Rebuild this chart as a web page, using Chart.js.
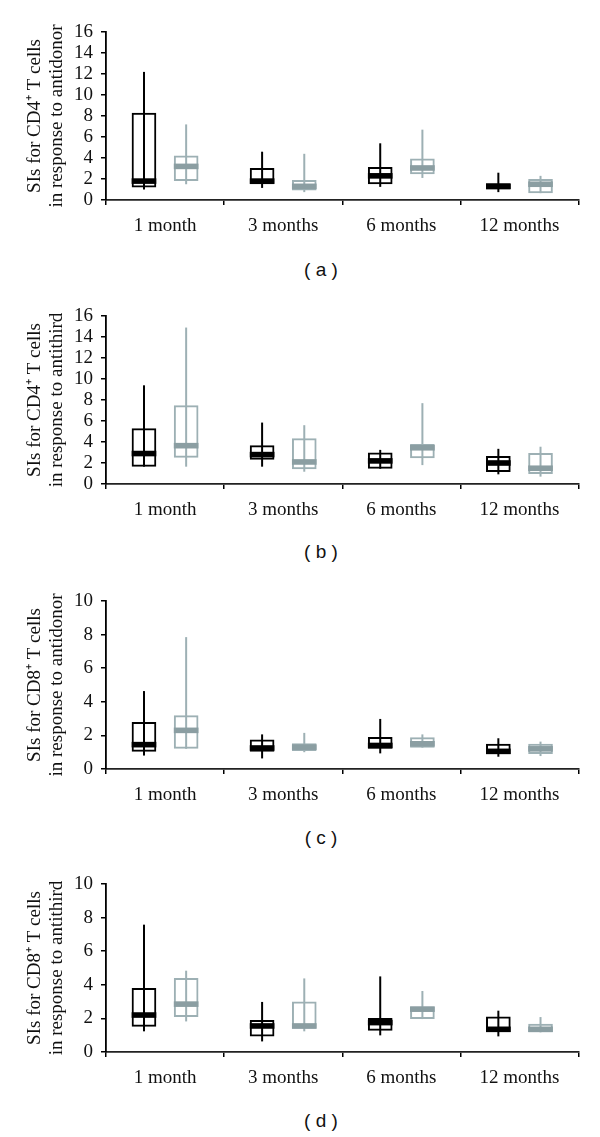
<!DOCTYPE html>
<html>
<head>
<meta charset="utf-8">
<script src="https://cdn.jsdelivr.net/npm/chart.js@4.4.1/dist/chart.umd.min.js"></script>
<style>
  html, body { margin:0; padding:0; background:#fff; }
  body { width:600px; height:1137px; position:relative; overflow:hidden; }
  canvas { position:absolute; left:0; }
  .cap { position:absolute; width:80px; text-align:center; font-family:"Liberation Sans", Arial, sans-serif; font-size:19px; color:#111; line-height:20px; }
</style>
</head>
<body>
<canvas id="ca" width="600" height="248" style="top:2px"></canvas>
<canvas id="cb" width="600" height="248" style="top:286px"></canvas>
<canvas id="cc" width="600" height="248" style="top:571px"></canvas>
<canvas id="cd" width="600" height="248" style="top:854px"></canvas>
<div class="cap" style="left:281px; top:260px">( a )</div>
<div class="cap" style="left:281px; top:542px">( b )</div>
<div class="cap" style="left:281px; top:828px">( c )</div>
<div class="cap" style="left:281px; top:1111px">( d )</div>
<script>
// Categories
const months = ['1 month', '3 months', '6 months', '12 months'];

// Each entry: [min, Q1, median, Q3, max]
// (a) CD4+ T cells, antidonor
const cd4DonorBlack = [[1.0, 1.2, 1.8, 8.3, 12.2], [1.15, 1.5, 1.8, 3.05, 4.6], [1.25, 1.5, 2.3, 3.15, 5.4], [0.75, 1.0, 1.3, 1.6, 2.6]];
const cd4DonorGrey  = [[1.5, 1.8, 3.2, 4.25, 7.2], [0.75, 0.9, 1.3, 1.9, 4.4], [2.1, 2.45, 3.05, 3.95, 6.7], [0.65, 0.65, 1.5, 2.0, 2.3]];
// (b) CD4+ T cells, antithird
const cd4ThirdBlack = [[1.65, 1.65, 2.9, 5.3, 9.4], [1.65, 2.3, 2.8, 3.7, 5.85], [1.45, 1.45, 2.2, 3.0, 3.25], [0.92, 1.15, 2.0, 2.67, 3.35]];
const cd4ThirdGrey  = [[1.65, 2.5, 3.65, 7.5, 14.9], [1.17, 1.4, 2.1, 4.35, 5.6], [1.8, 2.45, 3.45, 3.8, 7.7], [0.7, 0.95, 1.5, 2.95, 3.55]];
// (c) CD8+ T cells, antidonor
const cd8DonorBlack = [[0.8, 1.03, 1.45, 2.8, 4.64], [0.63, 1.03, 1.25, 1.75, 2.06], [0.93, 1.2, 1.4, 1.9, 2.98], [0.73, 0.9, 1.05, 1.5, 1.83]];
const cd8DonorGrey  = [[1.2, 1.2, 2.3, 3.2, 7.85], [1.0, 1.07, 1.3, 1.53, 2.15], [1.27, 1.27, 1.5, 1.89, 2.06], [0.77, 0.9, 1.2, 1.5, 1.63]];
// (d) CD8+ T cells, antithird
const cd8ThirdBlack = [[1.23, 1.51, 2.2, 3.81, 7.58], [0.63, 0.93, 1.55, 1.9, 2.98], [0.99, 1.27, 1.75, 2.02, 4.5], [0.93, 1.19, 1.35, 2.12, 2.46]];
const cd8ThirdGrey  = [[1.82, 2.08, 2.85, 4.4, 4.84], [1.23, 1.39, 1.55, 3.01, 4.38], [1.96, 1.96, 2.55, 2.71, 3.63], [1.17, 1.17, 1.35, 1.68, 2.08]];

// Axis tick settings
const cd4Max = 16, cd8Max = 10, tickStep = 2;

const BLACK = '#000000';
const GREY_LINE = '#9db0b4';
const GREY_BAND = '#8b9ea2';

const boxPlugin = {
  id: 'boxPlugin',
  afterDatasetsDraw(chart) {
    const ctx = chart.ctx;
    const ys = chart.scales.y;
    chart.data.datasets.forEach((ds, i) => {
      const meta = chart.getDatasetMeta(i);
      meta.data.forEach((el, j) => {
        const s = ds.stats[j];
        const x = el.x, w = el.width;
        ctx.save();
        ctx.strokeStyle = ds.borderColor;
        ctx.lineWidth = 2;
        ctx.beginPath();
        ctx.moveTo(x, ys.getPixelForValue(s[0]));
        ctx.lineTo(x, ys.getPixelForValue(s[4]));
        ctx.stroke();
        const ym = ys.getPixelForValue(s[2]);
        ctx.fillStyle = ds.bandColor;
        ctx.fillRect(x - w / 2, ym - 2.8, w, 5.6);
        ctx.restore();
      });
    });
  }
};

function makePanel(id, yMax, titleLines, black, grey) {
  const ctx = document.getElementById(id);
  return new Chart(ctx, {
    type: 'bar',
    data: {
      labels: months,
      datasets: [
        { data: black.map(s => [s[1], s[3]]), stats: black, borderColor: BLACK, bandColor: BLACK,
          backgroundColor: 'rgba(0,0,0,0)', borderWidth: 2, borderSkipped: false },
        { data: grey.map(s => [s[1], s[3]]), stats: grey, borderColor: GREY_LINE, bandColor: GREY_BAND,
          backgroundColor: 'rgba(0,0,0,0)', borderWidth: 2, borderSkipped: false }
      ]
    },
    options: {
      responsive: false,
      animation: false,
      events: [],
      categoryPercentage: 0.714,
      barPercentage: 0.585,
      layout: { padding: { top: 30, right: 21.5, bottom: 0, left: 0 } },
      plugins: { legend: { display: false }, tooltip: { enabled: false } },
      scales: {
        x: {
          type: 'category',
          offset: true,
          grid: { offset: true, drawOnChartArea: false, drawTicks: true, tickLength: 5, color: BLACK, lineWidth: 1.5 },
          border: { display: true, color: '#222', width: 1.8 },
          ticks: { color: '#111', padding: 10, font: { family: 'Liberation Serif', size: 19 } },
          afterFit(scale) { scale.height = 50; }
        },
        y: {
          min: 0, max: yMax,
          grid: { drawOnChartArea: false, drawTicks: true, tickLength: 5, color: BLACK, lineWidth: 1.5 },
          border: { display: true, color: BLACK, width: 1.8 },
          ticks: { stepSize: tickStep, autoSkip: false, color: '#111', padding: 8, font: { family: 'Liberation Serif', size: 19 } },
          title: { display: true, text: titleLines, color: '#111', padding: { top: 24, bottom: 0 },
                   font: { family: 'Liberation Serif', size: 19, lineHeight: 1.15 } },
          afterFit(scale) { scale.width = 106; }
        }
      }
    },
    plugins: [boxPlugin]
  });
}

makePanel('ca', cd4Max, ['SIs for CD4\u207A T cells', 'in response to antidonor'], cd4DonorBlack, cd4DonorGrey);
makePanel('cb', cd4Max, ['SIs for CD4\u207A T cells', 'in response to antithird'], cd4ThirdBlack, cd4ThirdGrey);
makePanel('cc', cd8Max, ['SIs for CD8\u207A T cells', 'in response to antidonor'], cd8DonorBlack, cd8DonorGrey);
makePanel('cd', cd8Max, ['SIs for CD8\u207A T cells', 'in response to antithird'], cd8ThirdBlack, cd8ThirdGrey);
</script>
</body>
</html>
